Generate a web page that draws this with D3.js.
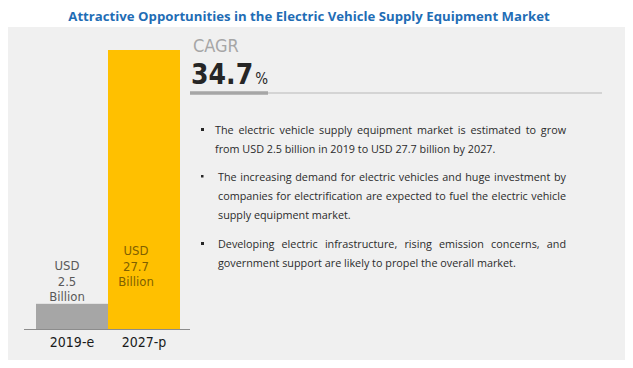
<!DOCTYPE html>
<html>
<head>
<meta charset="utf-8">
<script src="https://cdn.jsdelivr.net/npm/d3@7"></script>
<style>
  body { margin: 0; background: #fff; }
  svg { display: block; }
</style>
</head>
<body>
<svg id="chart"></svg>
<script>
// data
const title = "Attractive Opportunities in the Electric Vehicle Supply Equipment Market";
const years = ["2019-e", "2027-p"];
const values = [2.5, 27.7];
const valueLabels = [["USD", "2.5", "Billion"], ["USD", "27.7", "Billion"]];
const cagrLabel = "CAGR";
const cagrValue = "34.7";
const bullets = [
  ["The electric vehicle supply equipment market is estimated to grow",
   "from USD 2.5 billion in 2019 to USD 27.7 billion by 2027."],
  ["The increasing demand for electric vehicles and huge investment by",
   "companies for electrification are expected to fuel the electric vehicle",
   "supply equipment market."],
  ["Developing electric infrastructure, rising emission concerns, and",
   "government support are likely to propel the overall market."]
];

const width = 633, height = 368;
const narrow = "'Liberation Sans Narrow', 'DejaVu Sans Condensed', sans-serif";
const body = "'Open Sans', sans-serif";

const svg = d3.select("#chart")
    .attr("width", width)
    .attr("height", height)
    .attr("viewBox", [0, 0, width, height]);

// panel
svg.append("rect")
    .attr("x", 8).attr("y", 27)
    .attr("width", 617).attr("height", 333)
    .attr("fill", "#f0f0f0");

svg.append("text")
    .attr("x", 309).attr("y", 21)
    .attr("text-anchor", "middle")
    .attr("fill", "#1f6db5")
    .attr("font-family", body)
    .attr("font-weight", "bold")
    .attr("font-size", 13.2)
    .text(title);

// scales
const x = d3.scaleBand().domain(years).range([36, 180]);
const y = d3.scaleLinear().domain([0, 27.7]).range([329, 50]);
const colors = ["#a6a6a6", "#ffc000"];
const labelColors = ["#595959", "#7f6000"];

svg.append("g")
  .selectAll("rect")
  .data(values)
  .join("rect")
    .attr("x", (d, i) => x(years[i]))
    .attr("y", d => y(d))
    .attr("width", x.bandwidth())
    .attr("height", d => y(0) - y(d))
    .attr("fill", (d, i) => colors[i]);

// baseline + category labels
const xAxis = svg.append("g")
    .attr("transform", `translate(0,${y(0)})`)
    .call(d3.axisBottom(x).tickSize(0).tickPadding(8));
xAxis.select(".domain").attr("d", "M24,0.5H190").attr("stroke", "#8c8c8c");
xAxis.selectAll(".tick text")
    .attr("font-family", narrow)
    .attr("font-size", 14)
    .attr("fill", "#1a1a1a");

// value labels above / inside bars
const labelOffsets = [[-34, -18, -3], [-74, -58, -43]];
const labelX = [67, 136];
valueLabels.forEach((lines, i) => {
  const base = i === 0 ? y(values[i]) : y(0);
  svg.append("text")
      .attr("text-anchor", "middle")
      .attr("font-family", narrow)
      .attr("font-size", 13)
      .attr("fill", labelColors[i])
    .selectAll("tspan")
    .data(lines)
    .join("tspan")
      .attr("x", labelX[i])
      .attr("y", (d, j) => base + labelOffsets[i][j])
      .text(d => d);
});

// CAGR block
svg.append("text")
    .attr("x", 193).attr("y", 52)
    .attr("font-family", narrow)
    .attr("font-size", 18)
    .attr("fill", "#a6a6a6")
    .text(cagrLabel);

const cagr = svg.append("text")
    .attr("x", 191).attr("y", 84)
    .attr("font-family", narrow)
    .attr("fill", "#262626");
cagr.append("tspan").attr("font-size", 28).attr("font-weight", "bold").text(cagrValue);
cagr.append("tspan").attr("font-size", 15).attr("dx", 2).text("%");

svg.append("line")
    .attr("x1", 190).attr("x2", 602).attr("y1", 93).attr("y2", 93)
    .attr("stroke", "#d4d4d4").attr("stroke-width", 2);
svg.append("line")
    .attr("x1", 190).attr("x2", 268).attr("y1", 93).attr("y2", 93)
    .attr("stroke", "#a6a6a6").attr("stroke-width", 3.5);

// bullet text, justified like the source
const textRight = 566;
const bulletTop = [134, 181, 248];
const textLeft = [215, 218, 218];
const lineH = 19;
const bodyG = svg.append("g")
    .attr("font-family", body)
    .attr("font-size", 10.8)
    .attr("fill", "#2b2b2b");

function measure(str) {
  const t = bodyG.append("text").text(str);
  const w = t.node().getComputedTextLength();
  t.remove();
  return w;
}

bullets.forEach((lines, b) => {
  const sz = b === 1 ? 2.5 : 3;
  bodyG.append("rect")
      .attr("x", 201).attr("y", bulletTop[b] - 6)
      .attr("width", sz).attr("height", sz)
      .attr("fill", "#262626");
  lines.forEach((line, k) => {
    const ly = bulletTop[b] + k * lineH;
    const t = bodyG.append("text").attr("y", ly);
    if (k === lines.length - 1) {
      t.attr("x", textLeft[b]).text(line);
      return;
    }
    const words = line.split(" ");
    const widths = words.map(measure);
    const gap = (textRight - textLeft[b] - d3.sum(widths)) / (words.length - 1);
    let cx = textLeft[b];
    words.forEach((w, i) => {
      t.append("tspan").attr("x", cx).text(w);
      cx += widths[i] + gap;
    });
  });
});
</script>
</body>
</html>
